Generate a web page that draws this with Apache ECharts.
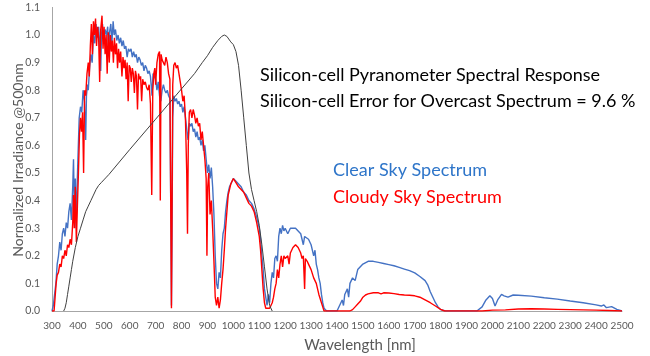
<!DOCTYPE html>
<html><head><meta charset="utf-8">
<script src="https://cdn.jsdelivr.net/npm/echarts@6/dist/echarts.min.js"></script>
<style>html,body{margin:0;padding:0;background:#fff}#c{width:650px;height:356px}</style>
</head><body><div id="c"></div>
<script>
// Clear sky spectrum (wavelength nm, normalized irradiance)
const clearWl = [300,305,310,315,320,325,330,335,340,345,350,355,360,365,370,375,380,383,386,390,393,396,400,405,410,415,420,425,430,433,437,440,445,450,455,460,465,470,475,480,485,488,491,495,500,505,510,515,518,522,527,531,536,540,545,550,555,560,565,570,575,580,585,590,595,600,605,610,615,620,625,630,635,640,645,650,655,660,665,670,675,680,686,690,695,700,705,710,715,720,725,730,735,740,745,750,755,759,761,763,766,770,775,780,785,790,795,800,805,810,815,820,825,830,835,840,845,850,855,860,865,870,875,880,885,890,895,900,905,910,915,920,925,930,935,940,945,950,955,960,965,970,975,980,985,990,995,1000,1010,1020,1030,1040,1050,1060,1070,1080,1090,1100,1105,1110,1115,1120,1125,1130,1135,1140,1145,1150,1155,1160,1165,1170,1175,1180,1185,1190,1195,1200,1210,1220,1230,1240,1250,1260,1265,1270,1275,1280,1290,1300,1310,1315,1320,1325,1330,1335,1340,1345,1350,1360,1400,1410,1420,1425,1430,1440,1445,1450,1460,1470,1480,1490,1500,1520,1540,1560,1580,1600,1620,1640,1660,1680,1700,1720,1740,1750,1760,1770,1780,1790,1800,1820,1940,1960,1975,1990,2000,2010,2020,2035,2045,2060,2080,2100,2150,2200,2250,2300,2350,2400,2420,2430,2440,2460,2480,2500];
const clearVal = [0,0.02,0.06,0.1,0.17,0.2,0.25,0.22,0.28,0.3,0.27,0.32,0.3,0.36,0.39,0.33,0.45,0.55,0.38,0.48,0.3,0.42,0.55,0.7,0.74,0.72,0.8,0.76,0.62,0.78,0.82,0.8,0.88,0.93,0.9,1.0,0.97,1.04,0.99,1.03,0.95,0.87,1.0,1.04,0.98,1.02,1.0,1.03,0.93,1.01,1.04,0.97,1.05,1.0,1.02,0.98,1.0,0.97,0.99,0.96,0.98,0.95,0.96,0.92,0.95,0.94,0.95,0.92,0.94,0.92,0.93,0.9,0.92,0.91,0.89,0.9,0.87,0.89,0.88,0.86,0.87,0.85,0.78,0.86,0.85,0.84,0.8,0.83,0.78,0.76,0.8,0.82,0.8,0.79,0.8,0.78,0.77,0.3,0.02,0.25,0.7,0.78,0.76,0.77,0.75,0.76,0.74,0.75,0.72,0.74,0.7,0.66,0.62,0.68,0.67,0.68,0.65,0.66,0.63,0.65,0.62,0.63,0.6,0.62,0.58,0.6,0.55,0.5,0.53,0.48,0.52,0.45,0.35,0.2,0.1,0.08,0.14,0.12,0.22,0.28,0.3,0.36,0.4,0.43,0.45,0.46,0.47,0.48,0.47,0.46,0.45,0.43,0.42,0.4,0.39,0.37,0.34,0.3,0.26,0.2,0.15,0.08,0.05,0.02,0.06,0.03,0.1,0.14,0.12,0.19,0.2,0.18,0.27,0.3,0.28,0.31,0.29,0.3,0.28,0.3,0.3,0.3,0.29,0.28,0.26,0.24,0.27,0.27,0.26,0.24,0.2,0.22,0.17,0.15,0.12,0.1,0.06,0.03,0.01,0,0,0.02,0.04,0.02,0.06,0.08,0.05,0.1,0.12,0.11,0.15,0.16,0.17,0.18,0.18,0.176,0.172,0.168,0.164,0.158,0.152,0.146,0.138,0.125,0.11,0.095,0.07,0.05,0.03,0.015,0.005,0,0,0.015,0.04,0.055,0.045,0.018,0.04,0.06,0.055,0.05,0.058,0.057,0.054,0.048,0.043,0.036,0.03,0.022,0.018,0.022,0.012,0.016,0.006,0];

// Cloudy sky spectrum
const cloudyWl = [300,308,312,316,320,325,330,335,340,345,350,355,360,365,370,375,380,383,386,390,394,398,402,406,410,414,418,422,426,430,435,440,444,448,452,456,460,464,468,472,476,480,484,488,493,497,501,505,509,513,517,521,525,529,533,537,541,545,549,553,557,561,565,570,574,578,582,586,590,594,598,602,606,610,614,618,622,626,630,634,638,642,646,650,655,660,665,670,675,680,685,689,693,697,700,705,710,715,718,721,725,730,735,740,745,750,755,759,761,763,766,770,775,780,785,790,795,800,805,810,815,820,823,826,830,835,840,845,850,855,860,865,870,875,880,885,890,895,898,901,905,910,915,920,925,930,935,940,945,950,955,960,965,970,975,980,985,990,995,1000,1010,1020,1030,1040,1050,1060,1070,1080,1090,1100,1105,1110,1115,1120,1125,1130,1140,1145,1150,1155,1160,1165,1170,1175,1180,1185,1190,1195,1200,1210,1215,1220,1230,1240,1250,1260,1265,1270,1275,1278,1285,1290,1300,1310,1320,1330,1340,1345,1350,1450,1460,1470,1480,1490,1500,1510,1520,1540,1560,1570,1580,1600,1620,1640,1660,1680,1700,1720,1740,1760,1780,1800,1815,1960,2000,2050,2100,2150,2200,2250,2300,2350,2400,2450,2500];
const cloudyVal = [0,0,0.05,0.1,0.13,0.14,0.17,0.16,0.2,0.19,0.22,0.2,0.24,0.23,0.26,0.24,0.32,0.42,0.3,0.45,0.25,0.38,0.5,0.64,0.7,0.65,0.72,0.5,0.8,0.78,0.86,0.9,0.85,0.96,1.04,0.93,1.05,1.0,1.06,0.96,1.03,0.99,0.83,1.02,1.07,0.95,1.03,0.93,1.0,0.86,1.01,0.9,1.0,0.94,0.98,0.9,0.99,0.93,0.97,0.88,0.95,0.9,0.94,0.85,0.92,0.88,0.91,0.84,0.9,0.76,0.89,0.88,0.83,0.88,0.86,0.79,0.87,0.85,0.73,0.86,0.84,0.85,0.76,0.84,0.82,0.83,0.81,0.8,0.82,0.75,0.42,0.8,0.86,0.88,0.82,0.9,0.93,0.94,0.4,0.93,0.91,0.9,0.89,0.92,0.9,0.86,0.84,0.3,0.01,0.3,0.82,0.89,0.9,0.88,0.89,0.86,0.83,0.8,0.76,0.78,0.7,0.5,0.28,0.6,0.72,0.73,0.7,0.73,0.71,0.68,0.7,0.67,0.68,0.62,0.65,0.6,0.55,0.48,0.2,0.45,0.5,0.35,0.4,0.3,0.18,0.05,0.02,0.05,0.01,0.04,0.1,0.15,0.22,0.3,0.36,0.42,0.44,0.46,0.47,0.48,0.465,0.45,0.44,0.43,0.41,0.39,0.38,0.36,0.32,0.27,0.22,0.15,0.08,0.03,0.01,0.005,0.01,0.005,0.03,0.05,0.08,0.1,0.15,0.12,0.17,0.2,0.16,0.2,0.19,0.2,0.17,0.21,0.23,0.24,0.23,0.21,0.19,0.2,0.08,0.19,0.18,0.17,0.15,0.12,0.1,0.06,0.03,0.015,0,0,0.005,0.015,0.025,0.035,0.05,0.058,0.062,0.066,0.066,0.062,0.066,0.065,0.063,0.06,0.058,0.057,0.055,0.05,0.04,0.03,0.018,0.006,0,0,0.003,0.004,0.007,0.008,0.007,0.006,0.005,0.004,0.003,0.002,0];

// Silicon-cell pyranometer spectral response
const respWl = [345,350,355,360,365,370,375,380,390,400,410,420,430,440,450,460,470,480,490,500,510,520,600,700,800,850,880,900,920,940,955,965,975,990,1000,1010,1020,1030,1040,1050,1060,1070,1080,1090,1100,1110,1120,1130,1140,1150];
const respVal = [0,0.01,0.03,0.06,0.09,0.12,0.15,0.18,0.23,0.27,0.3,0.33,0.36,0.38,0.4,0.42,0.44,0.455,0.465,0.475,0.485,0.495,0.585,0.695,0.805,0.86,0.9,0.925,0.955,0.98,0.995,1.0,0.995,0.975,0.965,0.94,0.89,0.8,0.7,0.6,0.5,0.44,0.4,0.36,0.31,0.24,0.16,0.08,0.02,0];

const xTicks = {min:300, max:2500, step:100};
const yTicks = {min:0, max:1.1, step:0.1};

const zip = (a,b) => a.map((x,i)=>[x,b[i]]);
const chart = echarts.init(document.getElementById('c'), null, {renderer:'canvas'});
const FONT = 'Lato';
chart.setOption({
  animation:false,
  grid:{left:52, right:28, top:7.4, bottom:45},
  xAxis:{type:'value', min:xTicks.min, max:xTicks.max, interval:xTicks.step,
    axisLine:{lineStyle:{color:'#a6a6a6'}}, axisTick:{show:false}, splitLine:{show:false},
    axisLabel:{color:'#595959', fontSize:10, fontFamily:FONT, margin:10, hideOverlap:false, showMaxLabel:true, showMinLabel:true, formatter:v=>String(v)}},
  yAxis:{type:'value', min:yTicks.min, max:yTicks.max, interval:yTicks.step,
    axisLine:{show:true, lineStyle:{color:'#a6a6a6'}}, axisTick:{show:false}, splitLine:{show:false},
    axisLabel:{color:'#595959', fontSize:10.5, fontFamily:FONT, margin:12, formatter:v=>v.toFixed(1)}},
  series:[
    {type:'line', data:zip(clearWl,clearVal), showSymbol:false, lineStyle:{color:'#4472C4', width:1.4}, z:2},
    {type:'line', data:zip(cloudyWl,cloudyVal), showSymbol:false, lineStyle:{color:'#FF0000', width:1.4}, z:3},
    {type:'line', data:zip(respWl,respVal), showSymbol:false, lineStyle:{color:'#404040', width:1}, z:4}
  ],
  graphic:[
    {type:'text', left:260, top:66.5, style:{text:'Silicon-cell Pyranometer Spectral Response', fontSize:18, fontFamily:FONT, fill:'#000'}},
    {type:'text', left:260, top:92, style:{text:'Silicon-cell Error for Overcast Spectrum = 9.6 %', fontSize:18, fontFamily:FONT, fill:'#000'}},
    {type:'text', left:333, top:161.5, style:{text:'Clear Sky Spectrum', fontSize:18, fontFamily:FONT, fill:'#2E75C9'}},
    {type:'text', left:333, top:188.5, style:{text:'Cloudy Sky Spectrum', fontSize:18, fontFamily:FONT, fill:'#FF0000'}},
    {type:'text', x:360, y:345, style:{text:'Wavelength [nm]', fontSize:15, fontFamily:FONT, fill:'#595959', align:'center', verticalAlign:'middle'}},
    {type:'text', x:18, y:160, rotation:Math.PI/2, style:{text:'Normalized Irradiance @500nm', fontSize:14, fontFamily:FONT, fill:'#595959', align:'center', verticalAlign:'middle'}}
  ]
});
</script></body></html>
